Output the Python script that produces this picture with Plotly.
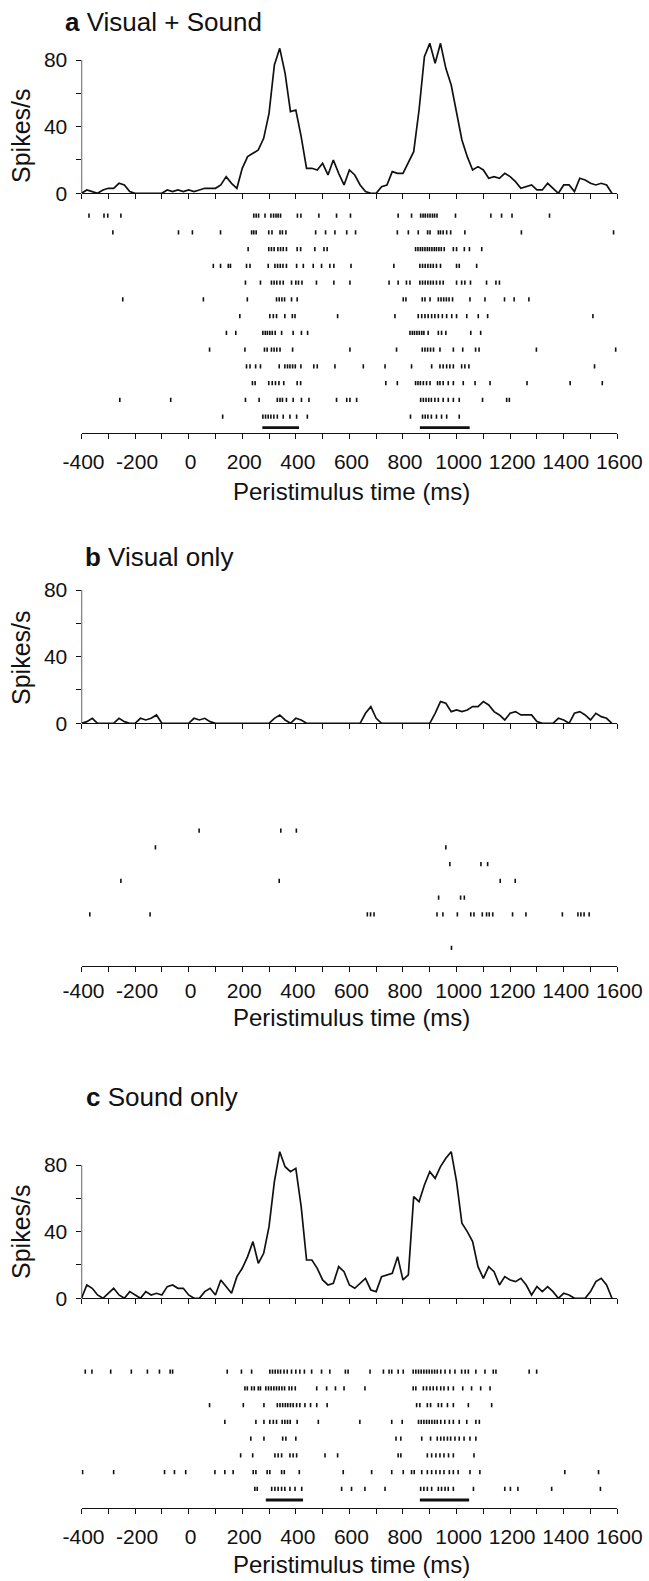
import plotly.graph_objects as go

# ---------------- DATA ----------------
time_ms = list(range(-400, 1600, 20))  # PSTH bin starts (ms)

psth_a = [0, 2, 1, 0, 2, 3, 3, 6, 5, 1,
          0, 0, 0, 0, 0, 0, 2, 1, 2, 1,
          2, 1, 2, 3, 3, 3, 5, 10, 6, 3,
          15, 22, 24, 26, 33, 48, 77, 87, 72, 49,
          50, 34, 15, 15, 14, 18, 11, 20, 12, 5,
          14, 11, 5, 1, 0, 0, 4, 5, 13, 12,
          12, 19, 25, 50, 82, 90, 78, 90, 75, 65,
          48, 32, 22, 14, 16, 14, 9, 10, 9, 12,
          10, 7, 3, 4, 5, 2, 2, 6, 3, 0,
          5, 5, 1, 9, 8, 6, 5, 6, 5, 0]

psth_b = [0, 1, 3, 0, 0, 0, 0, 3, 1, 0,
          0, 3, 2, 3, 5, 0, 0, 0, 0, 0,
          0, 3, 2, 3, 1, 0, 0, 0, 0, 0,
          0, 0, 0, 0, 0, 0, 3, 5, 2, 0,
          3, 2, 0, 0, 0, 0, 0, 0, 0, 0,
          0, 0, 0, 6, 10, 3, 0, 0, 0, 0,
          0, 0, 0, 0, 0, 0, 6, 13, 12, 7,
          8, 7, 8, 10, 10, 13, 11, 7, 5, 2,
          6, 7, 5, 5, 5, 1, 0, 0, 0, 3,
          2, 0, 6, 7, 5, 2, 6, 4, 3, 0]

psth_c = [0, 8, 6, 2, 0, 3, 6, 2, 0, 4,
          2, 0, 4, 2, 3, 2, 7, 8, 6, 6,
          2, 0, 0, 4, 6, 2, 11, 7, 3, 13,
          18, 25, 34, 21, 27, 43, 70, 88, 79, 76,
          78, 55, 23, 23, 18, 11, 8, 9, 19, 16,
          8, 6, 9, 12, 5, 4, 13, 14, 15, 25,
          11, 14, 61, 58, 68, 76, 72, 79, 84, 88,
          70, 45, 40, 34, 19, 12, 19, 16, 8, 13,
          11, 10, 12, 8, 2, 7, 4, 7, 4, 0,
          3, 2, 0, 0, 0, 4, 10, 12, 8, 0]

# Raster spike times (ms), one list per trial, top to bottom
raster_a = [
    [-372, -316, -302, -253, 243, 252, 261, 285, 307, 317, 326, 334, 343, 406, 419, 486, 552, 604,
     782, 832, 866, 875, 883, 892, 901, 910, 918, 927, 996, 1128, 1168, 1207, 1347],
    [-283, -38, 14, 119, 235, 243, 252, 299, 311, 341, 350, 363, 474, 511, 546, 590, 623,
     779, 820, 857, 892, 901, 932, 940, 950, 963, 978, 1031, 1242, 1586],
    [222, 299, 309, 319, 333, 343, 353, 365, 405, 418, 471, 505, 517,
     847, 856, 865, 873, 882, 891, 899, 908, 917, 925, 934, 943, 954, 988, 1000, 1029, 1048, 1094],
    [92, 119, 148, 156, 216, 229, 297, 322, 332, 342, 352, 365, 403, 428, 465, 496, 527, 542, 606,
     766, 863, 873, 883, 893, 903, 913, 925, 940, 1000, 1010, 1075],
    [212, 268, 309, 319, 329, 341, 353, 384, 400, 410, 423, 477, 542, 602,
     748, 782, 813, 826, 863, 873, 883, 893, 903, 913, 925, 938, 950, 1000, 1019, 1031, 1052,
     1112, 1147, 1160],
    [-246, 55, 219, 328, 338, 348, 358, 384, 405,
     801, 811, 872, 882, 901, 932, 942, 952, 962, 972, 985, 1050, 1106, 1179, 1215, 1270],
    [191, 303, 316, 328, 359, 387, 397, 556,
     770, 857, 870, 882, 894, 907, 919, 932, 947, 963, 982, 1000, 1038, 1081, 1116, 1509],
    [141, 176, 277, 286, 294, 303, 312, 323, 347, 390, 421, 444,
     826, 835, 843, 852, 861, 870, 878, 894, 932, 944, 960, 1053, 1090],
    [78, 210, 283, 293, 309, 319, 329, 341, 388, 602,
     776, 872, 882, 892, 903, 914, 938, 988, 1023, 1071, 1084, 1298, 1594],
    [216, 229, 250, 268, 338, 359, 369, 378, 388, 398, 419, 467, 480, 546, 652,
     733, 832, 907, 938, 950, 963, 975, 988, 1019, 1031, 1046, 1515],
    [238, 248, 299, 312, 324, 337, 355, 405, 418,
     736, 779, 847, 856, 865, 876, 888, 901, 929, 938, 950, 969, 988, 1025, 1069, 1125,
     1263, 1424, 1544],
    [-257, -67, 212, 263, 331, 341, 350, 365, 390, 421, 449, 552, 590, 602, 627,
     866, 876, 886, 896, 906, 919, 932, 950, 969, 988, 1010, 1097, 1187, 1197],
    [127, 277, 287, 297, 307, 318, 331, 353, 378, 403, 443,
     828, 873, 883, 893, 906, 925, 944, 963, 1010],
]

raster_b = [
    [], [], [], [], [],
    [39, 344, 402],
    [-124, 960],
    [975, 1091, 1116],
    [-253, 338, 1163, 1219],
    [933, 1015, 1029],
    [-369, -144, 667, 679, 692, 927, 949, 1003, 1053, 1065, 1096, 1112, 1122, 1135, 1209, 1259,
     1395, 1453, 1464, 1476, 1495],
    [],
    [981],
]

raster_c = [
    [], [], [],
    [-386, -361, -291, -214, -154, -109, -69, -60, 144, 197, 235, 303, 313, 323, 333, 343, 356,
     368, 384, 400, 415, 432, 459, 496, 527, 585, 595, 677, 727, 748, 758, 782, 801,
     838, 848, 858, 868, 878, 888, 898, 908, 918, 928, 941, 957, 975, 994, 1019, 1032, 1044,
     1072, 1106, 1137, 1147, 1271, 1299],
    [210, 219, 235, 245, 260, 268, 288, 298, 308, 318, 328, 338, 348, 358, 375, 385, 398, 478,
     515, 548, 580, 658, 838, 848, 876, 888, 901, 913, 926, 941, 953, 969, 988, 1023, 1056,
     1090, 1125],
    [78, 204, 281, 331, 341, 351, 361, 370, 380, 390, 403, 415, 434, 455, 478, 517,
     851, 863, 891, 903, 932, 944, 966, 988, 1044, 1131],
    [135, 251, 281, 303, 316, 328, 349, 359, 369, 379, 405, 484, 639,
     758, 797, 858, 868, 878, 888, 898, 908, 918, 928, 941, 956, 973, 988, 1010, 1038, 1072, 1085],
    [232, 281, 351, 363, 400, 774, 792, 870, 903, 928, 941, 953, 966, 978, 994, 1010, 1028,
     1050, 1072],
    [194, 239, 322, 334, 347, 378, 390, 403, 509, 556, 782, 792, 891, 907, 923, 938, 953,
     970, 988, 1065],
    [-396, -280, -90, -53, -11, 98, 135, 166, 241, 251, 293, 303, 347, 357, 413, 577, 683, 758,
     801, 832, 842, 870, 891, 907, 923, 938, 953, 973, 988, 1006, 1050, 1087, 1404, 1530],
    [247, 256, 310, 322, 334, 347, 359, 378, 397, 422, 571, 608, 658, 733, 866, 878, 891, 907,
     932, 944, 957, 969, 988, 1063, 1180, 1201, 1229, 1355, 1537],
]

# Stimulus periods (ms) shown as bars under the rasters
stim_a = [[275, 412], [863, 1049]]
stim_c = [[288, 427], [863, 1047]]

x_ticks = list(range(-400, 1601, 100))
x_labels = [str(v) if v % 200 == 0 else "" for v in x_ticks]
y_ticks = [0, 20, 40, 60, 80]
y_labels = ["0", "", "40", "", "80"]

panel_titles = ["<b>a</b> Visual + Sound", "<b>b</b> Visual only", "<b>c</b> Sound only"]
x_title = "Peristimulus time (ms)"
y_title = "Spikes/s"

# ---------------- LAYOUT (pixel geometry) ----------------
W, H = 649, 1581
XL, XR = 81.5, 617.3
INK = "#111111"
FONT = "Liberation Sans, Arial, Helvetica, sans-serif"
ROW_SP = 16.75

panels = [
    dict(title_xy=(63, 22), zero=193.3, row1=215.7, axis=433.3, bar=427.7, lab_pad=4,
         lab_y=136, xt_y=491, psth=psth_a, raster=raster_a, stim=stim_a),
    dict(title_xy=(83, 556.7), zero=723.3, row1=746.95, axis=965.7, bar=None, lab_pad=1,
         lab_y=658, xt_y=1017, psth=psth_b, raster=raster_b, stim=[]),
    dict(title_xy=(84, 1096.7), zero=1298.3, row1=1321.45, axis=1508.3, bar=1500, lab_pad=4,
         lab_y=1232, xt_y=1564, psth=psth_c, raster=raster_c, stim=stim_c),
]

UNIT = 133.3 / 80.0  # px per spike/s
YTOP = 92


def py(p):
    return 1 - p / H


def px(p):
    return p / W


fig = go.Figure()
layout = dict(template="none", width=W, height=H, margin=dict(l=0, r=0, t=0, b=0, pad=0),
              autosize=False, paper_bgcolor="white", plot_bgcolor="white", showlegend=False,
              font=dict(family=FONT, color=INK))
shapes, annotations = [], []

xbase = dict(range=[-400, 1600], domain=[px(XL), px(XR)], showline=True, linecolor=INK,
             linewidth=1.3, ticks="outside", ticklen=5, tickwidth=1.2, tickcolor=INK,
             tickvals=x_ticks, showgrid=False, zeroline=False, fixedrange=True,
             automargin=False)

for i, p in enumerate(panels):
    ia = 2 * i + 1
    ib = 2 * i + 2
    sa = "" if ia == 1 else str(ia)
    sb = str(ib)
    # PSTH
    fig.add_trace(go.Scatter(x=time_ms, y=p["psth"], mode="lines",
                             line=dict(color=INK, width=1.7),
                             xaxis="x" + sa, yaxis="y" + sa, hoverinfo="skip"))
    top_px = p["zero"] - YTOP * UNIT
    layout["xaxis" + sa] = dict(xbase, anchor="y" + sa, showticklabels=False)
    layout["yaxis" + sa] = dict(range=[0, YTOP], domain=[py(p["zero"]), py(top_px)],
                                anchor="x" + sa, showline=False, ticks="outside", ticklen=5,
                                tickwidth=1.2, tickcolor=INK, tickvals=y_ticks,
                                ticktext=y_labels, tickfont=dict(size=21, family=FONT, color=INK),
                                ticklabelstandoff=4, showgrid=False, zeroline=False,
                                fixedrange=True, automargin=False)
    shapes.append(dict(type="line", xref="x" + sa, yref="y" + sa, x0=-400, x1=-400, y0=0, y1=80,
                       line=dict(color=INK, width=1.3)))

    # Raster
    xs, ys = [], []
    for r, trial in enumerate(p["raster"]):
        for t in trial:
            xs.append(t)
            ys.append(r + 1)
    fig.add_trace(go.Scatter(x=xs, y=ys, mode="markers",
                             marker=dict(symbol="line-ns", size=3,
                                         line=dict(color=INK, width=1.6)),
                             xaxis="x" + sb, yaxis="y" + sb, hoverinfo="skip"))
    bottom_val = 1 + (p["axis"] - p["row1"]) / ROW_SP
    if p["bar"] is not None:
        bar_val = 1 + (p["bar"] - p["row1"]) / ROW_SP
        for s0, s1 in p["stim"]:
            fig.add_trace(go.Scatter(x=[s0, s1], y=[bar_val, bar_val], mode="lines",
                                     line=dict(color=INK, width=2.8),
                                     xaxis="x" + sb, yaxis="y" + sb, hoverinfo="skip"))
    layout["xaxis" + sb] = dict(xbase, anchor="y" + sb, showticklabels=True, ticktext=x_labels,
                                tickfont=dict(size=21, family=FONT, color=INK),
                                ticklabelstandoff=p["lab_pad"], ticklabelshift=2)
    layout["yaxis" + sb] = dict(range=[bottom_val, 0],
                                domain=[py(p["axis"]), py(p["row1"] - ROW_SP)],
                                anchor="x" + sb, visible=False, fixedrange=True,
                                automargin=False)

    # Texts
    tx, ty = p["title_xy"]
    annotations.append(dict(text=panel_titles[i], xref="paper", yref="paper", x=px(tx), y=py(ty),
                            xanchor="left", yanchor="middle", showarrow=False,
                            font=dict(size=26, family=FONT, color=INK)))
    annotations.append(dict(text=y_title, xref="paper", yref="paper", x=px(21), y=py(p["lab_y"]),
                            xanchor="center", yanchor="middle", showarrow=False, textangle=-90,
                            font=dict(size=25, family=FONT, color=INK)))
    annotations.append(dict(text=x_title, xref="paper", yref="paper", x=px(351), y=py(p["xt_y"]),
                            xanchor="center", yanchor="middle", showarrow=False,
                            font=dict(size=24, family=FONT, color=INK)))

layout["shapes"] = shapes
layout["annotations"] = annotations
fig.update_layout(**layout)
fig.write_html("out.html")
